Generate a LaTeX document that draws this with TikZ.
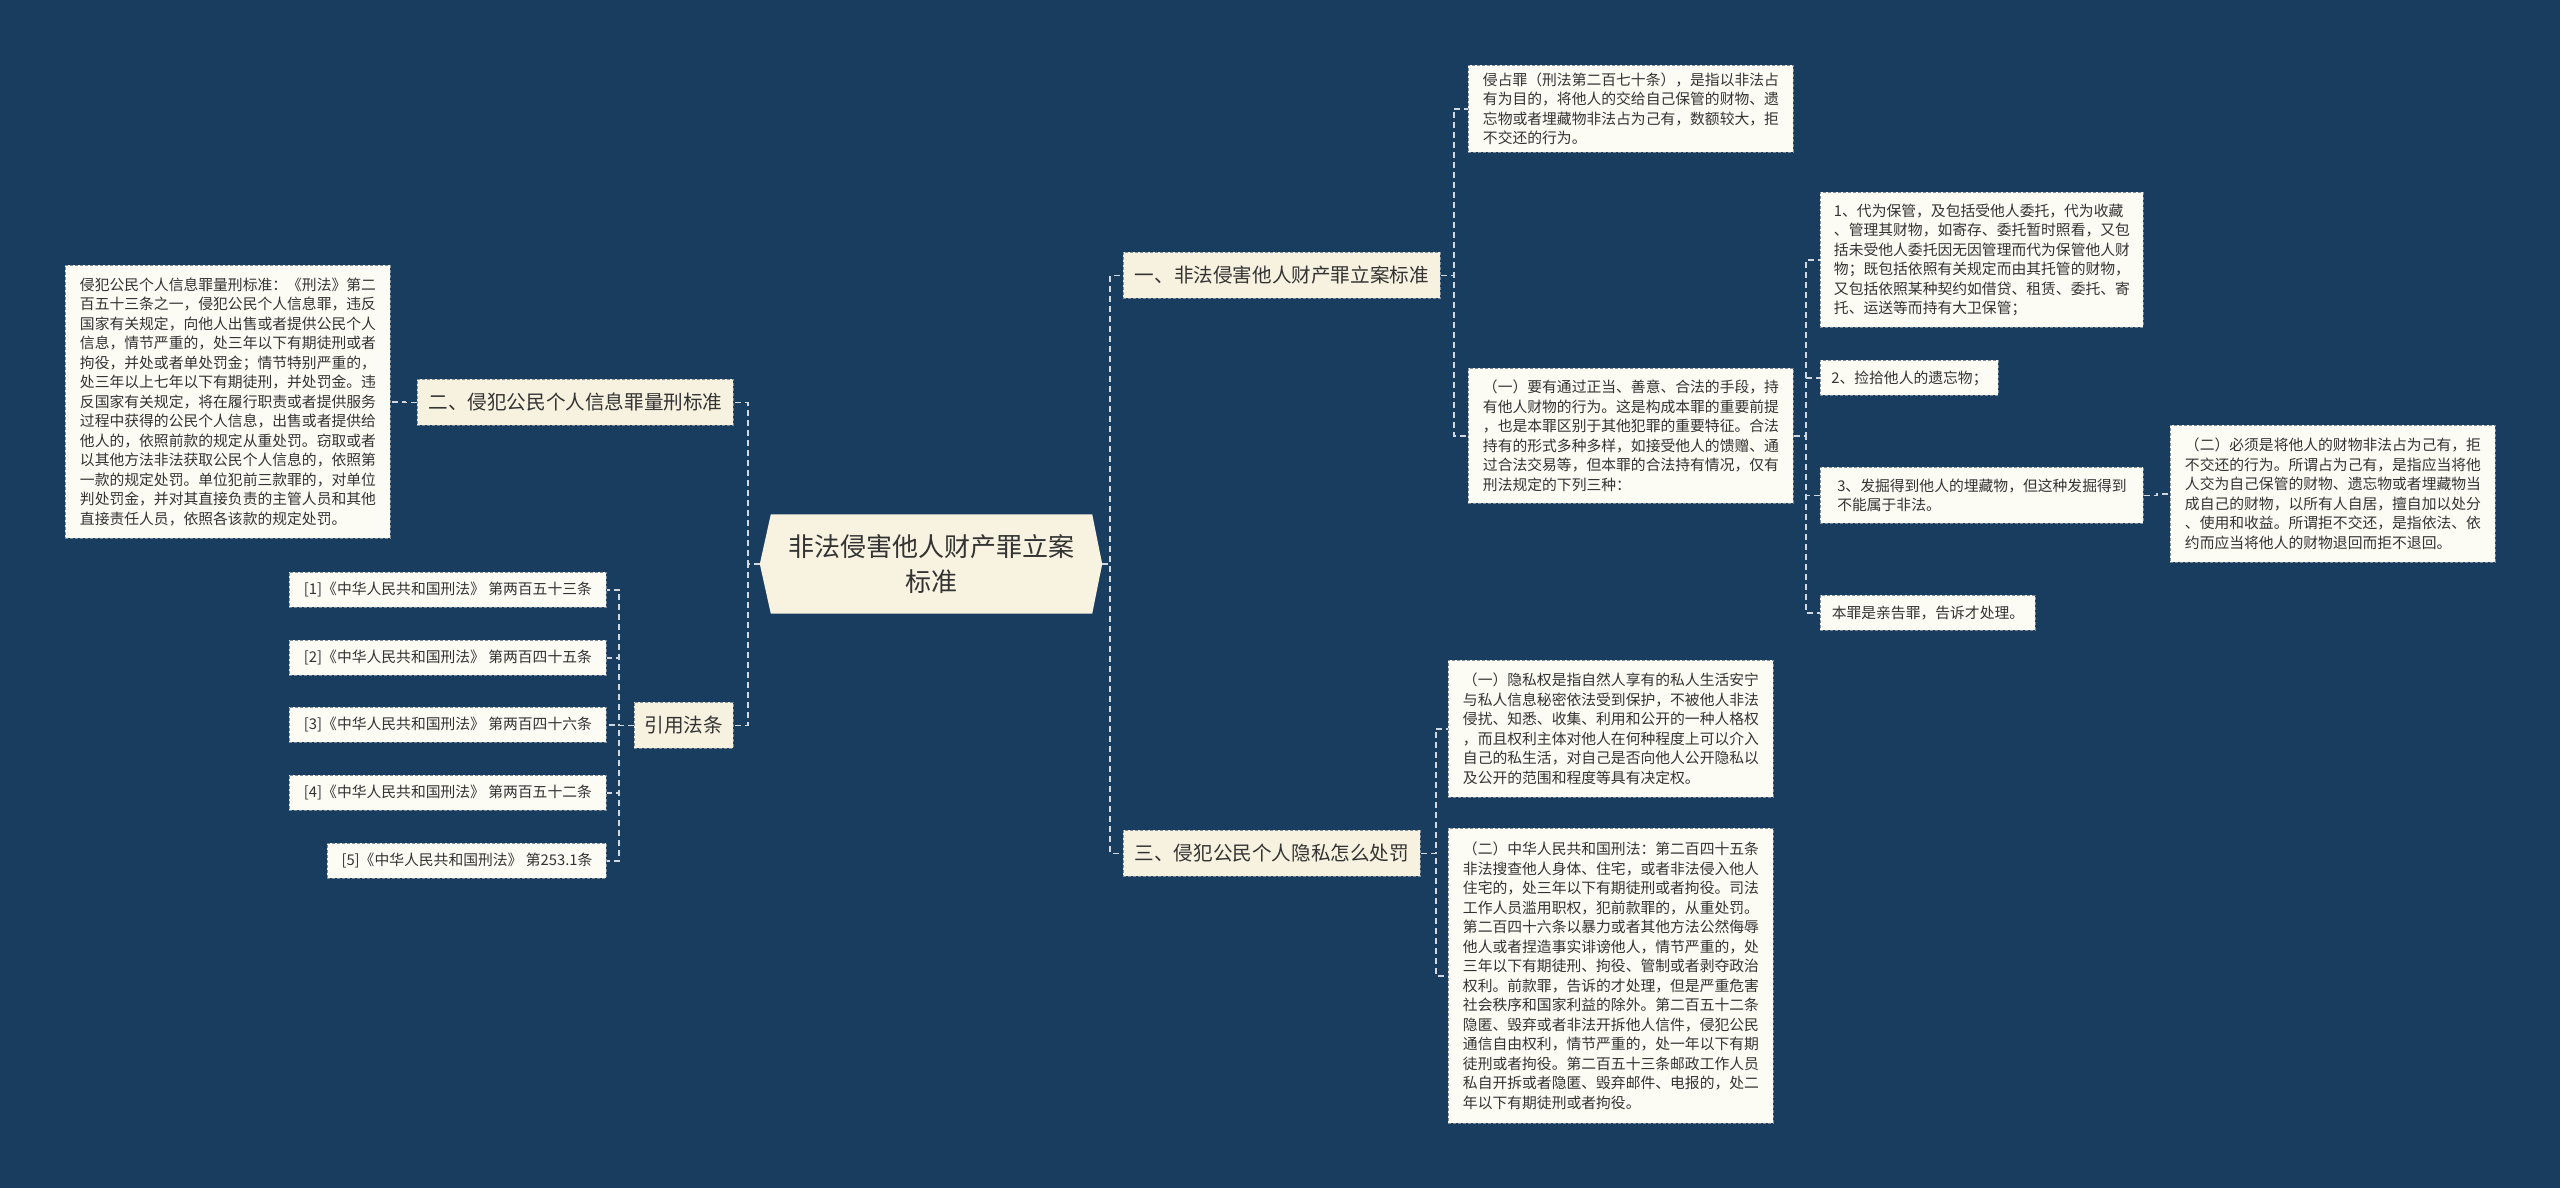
\documentclass[tikz,border=0pt]{standalone}
\usepackage{fontspec}
\setmainfont{Noto Sans CJK SC}
\usetikzlibrary{calc}
\definecolor{bgc}{HTML}{183D5E}
\definecolor{leaffill}{HTML}{FCFBF4}
\definecolor{branchfill}{HTML}{F7F2DF}
\definecolor{centerfill}{HTML}{F8F3E1}
\definecolor{bordc}{HTML}{7E8C9A}
\definecolor{connc}{HTML}{D3D8DE}
\definecolor{txtc}{HTML}{333333}
\pgfdeclarelayer{bg}
\pgfsetlayers{bg,main}
\tikzset{
  sz/.style 2 args={minimum width=#1pt, minimum height=#2pt},
  leaf/.style={draw=bordc, fill=leaffill, text=txtc, line width=0.9pt, dash pattern=on 3pt off 2pt,
    font=\fontsize{14.8}{19.5}\selectfont, align=left, inner xsep=9pt, inner ysep=6pt, anchor=north west},
  branch/.style={draw=bordc, fill=branchfill, text=txtc, line width=0.9pt, dash pattern=on 3pt off 2pt,
    font=\fontsize{19.6}{24}\selectfont, align=left, inner xsep=8pt, inner ysep=4pt, anchor=north west},
  conn/.style={draw=connc, line width=1.5pt, dash pattern=on 6pt off 4pt},
  er/.style={to path={-- ++(#1pt,0) |- (\tikztotarget)}},
  el/.style={to path={-- ++(-#1pt,0) |- (\tikztotarget)}},
}
\begin{document}
\begin{tikzpicture}[x=1pt,y=-1pt]
\begin{pgfonlayer}{bg}
\fill[bgc] (0,0) rectangle (2560,1188);
\end{pgfonlayer}
\useasboundingbox (0,0) rectangle (2560,1188);

% center
\node[sz={342}{99}, inner sep=0pt, text=txtc, align=center, font=\fontsize{26}{35}\selectfont] (center) at (931,564) {非法侵害他人财产罪立案\\标准};
\begin{pgfonlayer}{bg}
\fill[centerfill] (center.west) -- ($(center.north west)+(11pt,0)$) -- ($(center.north east)+(-10pt,0)$) -- (center.east) -- ($(center.south east)+(-10pt,0)$) -- ($(center.south west)+(11pt,0)$) -- cycle;
\end{pgfonlayer}

% branches
\node[branch, sz={317}{46}] (b1) at (1123,252) {一、非法侵害他人财产罪立案标准};
\node[branch, sz={316}{46}] (b2) at (417,379) {二、侵犯公民个人信息罪量刑标准};
\node[branch, sz={297}{46}] (b3) at (1123,830) {三、侵犯公民个人隐私怎么处罚};
\node[branch, sz={99}{46}] (b4) at (634,702) {引用法条};

% branch 1 leaves
\node[leaf, sz={325}{87}] (qz) at (1468,65) {侵占罪（刑法第二百七十条），是指以非法占\\有为目的，将他人的交给自己保管的财物、遗\\忘物或者埋藏物非法占为己有，数额较大，拒\\不交还的行为。};
\node[leaf, sz={325}{135}] (y1) at (1468,368) {（一）要有通过正当、善意、合法的手段，持\\有他人财物的行为。这是构成本罪的重要前提\\，也是本罪区别于其他犯罪的重要特征。合法\\持有的形式多种多样，如接受他人的馈赠、通\\过合法交易等，但本罪的合法持有情况，仅有\\刑法规定的下列三种：};
\node[leaf, sz={323}{135}] (n1) at (1820,192) {1、代为保管，及包括受他人委托，代为收藏\\、管理其财物，如寄存、委托暂时照看，又包\\括未受他人委托因无因管理而代为保管他人财\\物；既包括依照有关规定而由其托管的财物，\\又包括依照某种契约如借贷、租赁、委托、寄\\托、运送等而持有大卫保管；};
\node[leaf, sz={178}{35}] (n2) at (1820,360) {2、捡拾他人的遗忘物；};
\node[leaf, sz={323}{56}] (n3) at (1820,467) {3、发掘得到他人的埋藏物，但这种发掘得到\\不能属于非法。};
\node[leaf, sz={215}{35}] (n4) at (1820,595) {本罪是亲告罪，告诉才处理。};
\node[leaf, sz={325}{137}] (e2) at (2170,425) {（二）必须是将他人的财物非法占为己有，拒\\不交还的行为。所谓占为己有，是指应当将他\\人交为自己保管的财物、遗忘物或者埋藏物当\\成自己的财物，以所有人自居，擅自加以处分\\、使用和收益。所谓拒不交还，是指依法、依\\约而应当将他人的财物退回而拒不退回。};

% branch 2 leaf
\node[leaf, sz={325}{273}] (xx) at (65,265) {侵犯公民个人信息罪量刑标准：《刑法》第二\\百五十三条之一，侵犯公民个人信息罪，违反\\国家有关规定，向他人出售或者提供公民个人\\信息，情节严重的，处三年以下有期徒刑或者\\拘役，并处或者单处罚金；情节特别严重的，\\处三年以上七年以下有期徒刑，并处罚金。违\\反国家有关规定，将在履行职责或者提供服务\\过程中获得的公民个人信息，出售或者提供给\\他人的，依照前款的规定从重处罚。窃取或者\\以其他方法非法获取公民个人信息的，依照第\\一款的规定处罚。单位犯前三款罪的，对单位\\判处罚金，并对其直接负责的主管人员和其他\\直接责任人员，依照各该款的规定处罚。};

% branch 3 leaves
\node[leaf, sz={325}{137}] (s1) at (1448,660) {（一）隐私权是指自然人享有的私人生活安宁\\与私人信息秘密依法受到保护，不被他人非法\\侵扰、知悉、收集、利用和公开的一种人格权\\，而且权利主体对他人在何种程度上可以介入\\自己的私生活，对自己是否向他人公开隐私以\\及公开的范围和程度等具有决定权。};
\node[leaf, sz={325}{295}] (s2) at (1448,828) {（二）中华人民共和国刑法：第二百四十五条\\非法搜查他人身体、住宅，或者非法侵入他人\\住宅的，处三年以下有期徒刑或者拘役。司法\\工作人员滥用职权，犯前款罪的，从重处罚。\\第二百四十六条以暴力或者其他方法公然侮辱\\他人或者捏造事实诽谤他人，情节严重的，处\\三年以下有期徒刑、拘役、管制或者剥夺政治\\权利。前款罪，告诉的才处理，但是严重危害\\社会秩序和国家利益的除外。第二百五十二条\\隐匿、毁弃或者非法开拆他人信件，侵犯公民\\通信自由权利，情节严重的，处一年以下有期\\徒刑或者拘役。第二百五十三条邮政工作人员\\私自开拆或者隐匿、毁弃邮件、电报的，处二\\年以下有期徒刑或者拘役。};

% refs
\node[leaf, sz={317}{35}] (r1) at (289,572) {[1]《中华人民共和国刑法》 第两百五十三条};
\node[leaf, sz={317}{35}] (r2) at (289,640) {[2]《中华人民共和国刑法》 第两百四十五条};
\node[leaf, sz={317}{35}] (r3) at (289,707) {[3]《中华人民共和国刑法》 第两百四十六条};
\node[leaf, sz={317}{35}] (r4) at (289,775) {[4]《中华人民共和国刑法》 第两百五十二条};
\node[leaf, sz={279}{35}] (r5) at (327,843) {[5]《中华人民共和国刑法》 第253.1条};

% connectors
\begin{pgfonlayer}{bg}
\draw[conn] (center.east) to[er=8] (b1.west);
\draw[conn] (center.east) to[er=8] (b3.west);
\draw[conn] (center.west) to[el=12] (b2.east);
\draw[conn] (center.west) to[el=12] (b4.east);
\draw[conn] (b1.east) to[er=13] (qz.west);
\draw[conn] (b1.east) to[er=13] (y1.west);
\draw[conn] (y1.east) to[er=12] (n1.west);
\draw[conn] (y1.east) to[er=12] (n2.west);
\draw[conn] (y1.east) to[er=12] (n3.west);
\draw[conn] (y1.east) to[er=12] (n4.west);
\draw[conn] (n3.east) to[er=13] (e2.west);
\draw[conn] (b2.west) to[el=12] (xx.east);
\draw[conn] (b3.east) to[er=15] (s1.west);
\draw[conn] (b3.east) to[er=15] (s2.west);
\draw[conn] (b4.west) to[el=15] (r1.east);
\draw[conn] (b4.west) to[el=15] (r2.east);
\draw[conn] (b4.west) to[el=15] (r3.east);
\draw[conn] (b4.west) to[el=15] (r4.east);
\draw[conn] (b4.west) to[el=15] (r5.east);
\end{pgfonlayer}
\end{tikzpicture}
\end{document}
